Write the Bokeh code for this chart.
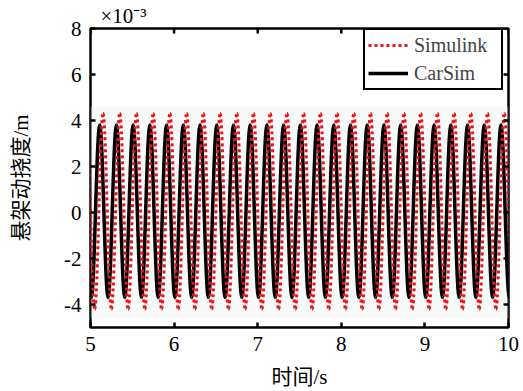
from bokeh.plotting import figure
from bokeh.models import (ColumnDataSource, FixedTicker, Range1d, Title,
                          Legend, LegendItem)
from bokeh.embed import file_html
from bokeh.resources import INLINE

# ---- data (time in s, deflection in 1e-3 m) ----
# successive extrema (peak, trough, peak, ...) of each response
carsim_t = [4.91, 5.01, 5.11, 5.21, 5.31, 5.41, 5.51, 5.61, 5.71, 5.81,
            5.91, 6.01, 6.11, 6.21, 6.31, 6.41, 6.51, 6.61, 6.71, 6.81,
            6.91, 7.01, 7.11, 7.21, 7.31, 7.41, 7.51, 7.61, 7.71, 7.81,
            7.91, 8.01, 8.11, 8.21, 8.31, 8.41, 8.51, 8.61, 8.71, 8.81,
            8.91, 9.01, 9.11, 9.21, 9.31, 9.41, 9.51, 9.61, 9.71, 9.81,
            9.91, 10.01, 10.11]
carsim_v = [3.8, -3.7, 3.8, -3.7, 3.8, -3.7, 3.8, -3.7, 3.8, -3.7,
            3.8, -3.7, 3.8, -3.7, 3.8, -3.7, 3.8, -3.7, 3.8, -3.7,
            3.8, -3.7, 3.8, -3.7, 3.8, -3.7, 3.8, -3.7, 3.8, -3.7,
            3.8, -3.7, 3.8, -3.7, 3.8, -3.7, 3.8, -3.7, 3.8, -3.7,
            3.8, -3.7, 3.8, -3.7, 3.8, -3.7, 3.8, -3.7, 3.8, -3.7,
            3.8, -3.7, 3.8]
simulink_t = [4.95, 5.05, 5.15, 5.25, 5.35, 5.45, 5.55, 5.65, 5.75, 5.85,
              5.95, 6.05, 6.15, 6.25, 6.35, 6.45, 6.55, 6.65, 6.75, 6.85,
              6.95, 7.05, 7.15, 7.25, 7.35, 7.45, 7.55, 7.65, 7.75, 7.85,
              7.95, 8.05, 8.15, 8.25, 8.35, 8.45, 8.55, 8.65, 8.75, 8.85,
              8.95, 9.05, 9.15, 9.25, 9.35, 9.45, 9.55, 9.65, 9.75, 9.85,
              9.95, 10.05]
simulink_v = [4.3, -4.2, 4.3, -4.2, 4.3, -4.2, 4.3, -4.2, 4.3, -4.2,
              4.3, -4.2, 4.3, -4.2, 4.3, -4.2, 4.3, -4.2, 4.3, -4.2,
              4.3, -4.2, 4.3, -4.2, 4.3, -4.2, 4.3, -4.2, 4.3, -4.2,
              4.3, -4.2, 4.3, -4.2, 4.3, -4.2, 4.3, -4.2, 4.3, -4.2,
              4.3, -4.2, 4.3, -4.2, 4.3, -4.2, 4.3, -4.2, 4.3, -4.2,
              4.3, -4.2]
# faint grey speckle band behind the curves
band_t = [5, 10]
band_top = [4.6, 4.6]
band_bottom = [-4.6, -4.6]

x_ticks = [5, 6, 7, 8, 9, 10]
y_ticks = [-4, -2, 0, 2, 4, 6, 8]
y_tick_labels = ["-4", "-2", "0", "2", "4", "6", "8"]
x_lim = (5, 10)
y_lim = (-5, 8)
series_names = ["Simulink", "CarSim"]
x_title = "时间/s"
y_title = "悬架动挠度/m"
y_scale_text = "×10⁻³"

SERIF = "'Liberation Serif', 'Noto Sans CJK SC'"
RED = "#e8141c"


def bezier_source(t, v):
    # smooth curve between successive extrema (horizontal tangents at extrema)
    a = 0.363
    x0, x1 = t[:-1], t[1:]
    y0, y1 = v[:-1], v[1:]
    cx0 = [p + a * (q - p) for p, q in zip(x0, x1)]
    cx1 = [q - a * (q - p) for p, q in zip(x0, x1)]
    return ColumnDataSource(dict(x0=x0, y0=y0, x1=x1, y1=y1,
                                 cx0=cx0, cy0=y0, cx1=cx1, cy1=y1))


p = figure(width=523, height=391, output_backend="svg", toolbar_location=None,
           x_range=Range1d(*x_lim), y_range=Range1d(*y_lim),
           min_border_left=90, min_border_right=15,
           min_border_top=28, min_border_bottom=62,
           title=Title(text=y_scale_text, align="left", offset=10,
                       text_font=SERIF, text_font_size="21px",
                       text_font_style="normal", text_color="black",
                       standoff=1))
p.background_fill_color = "white"
p.border_fill_color = "white"
p.grid.visible = False
p.outline_line_color = "black"
p.outline_line_width = 2.5

p.varea(x=band_t, y1=band_bottom, y2=band_top, fill_color="#eef1f1",
        fill_alpha=0.4, level="underlay")

# curves
car_src = bezier_source(carsim_t, carsim_v)
sim_src = bezier_source(simulink_t, simulink_v)
r_car = p.bezier(x0="x0", y0="y0", x1="x1", y1="y1", cx0="cx0", cy0="cy0",
                 cx1="cx1", cy1="cy1", source=car_src, line_color="black",
                 line_width=3.5)
r_sim = p.bezier(x0="x0", y0="y0", x1="x1", y1="y1", cx0="cx0", cy0="cy0",
                 cx1="cx1", cy1="cy1", source=sim_src, line_color=RED,
                 line_width=3, line_dash="3 3")

# box ticks on the top and right edges (inward, clipped to the frame)
p.scatter(x=[x_lim[1]] * len(y_ticks), y=y_ticks, marker="dash", size=10,
          line_color="black", line_width=2.5)
p.scatter(x=x_ticks, y=[y_lim[1]] * len(x_ticks), marker="dash", size=10,
          angle=1.5708, line_color="black", line_width=2.5)

legend = Legend(items=[LegendItem(label=series_names[0], renderers=[r_sim]),
                       LegendItem(label=series_names[1], renderers=[r_car])],
                location=(273, 237), border_line_color="black",
                border_line_width=2, border_line_alpha=1.0,
                background_fill_color="white", background_fill_alpha=1.0,
                label_text_font=SERIF, label_text_font_size="20px",
                glyph_width=40, glyph_height=24, label_height=24,
                label_width=84, spacing=4, padding=3, margin=0,
                label_standoff=6)
p.add_layout(legend)

# axes
xa = p.xaxis[0]
ya = p.yaxis[0]
xa.ticker = FixedTicker(ticks=x_ticks)
ya.ticker = FixedTicker(ticks=y_ticks)
ya.major_label_overrides = {t: s for t, s in zip(y_ticks, y_tick_labels)}
for ax in (xa, ya):
    ax.axis_line_color = None
    ax.major_tick_in = 5
    ax.major_tick_out = 0
    ax.major_tick_line_width = 2.5
    ax.minor_tick_line_color = None
    ax.major_label_text_font = SERIF
    ax.major_label_text_font_size = "21px"
    ax.major_label_text_color = "black"
    ax.axis_label_text_font = SERIF
    ax.axis_label_text_font_size = "21px"
    ax.axis_label_text_font_style = "normal"
    ax.axis_label_text_color = "black"
xa.axis_label = x_title
ya.axis_label = y_title
xa.major_label_standoff = 9
xa.axis_label_standoff = 11
ya.major_label_standoff = 9
ya.axis_label_standoff = 28

open("out.html", "w").write(file_html(p, INLINE))
